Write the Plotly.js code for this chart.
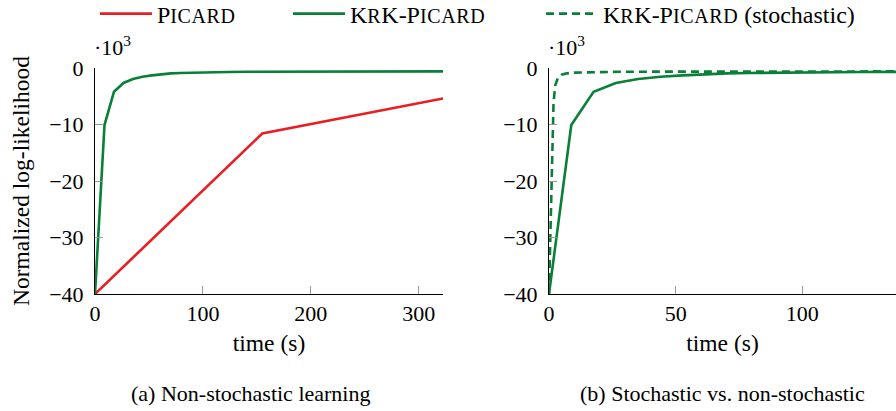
<!DOCTYPE html>
<html>
<head>
<meta charset="utf-8">
<script src="https://cdn.plot.ly/plotly-3.0.1.min.js"></script>
<style>html,body{margin:0;padding:0;background:#fff;}#chart{width:896px;height:411px;}</style>
</head>
<body>
<div id="chart"></div>
<script>
// ---- data ----
const picardTime = [0, 155, 322.5];
const picardLL = [-40, -11.6, -5.4];

const krkTime = [0, 8.8, 17.6, 26.4, 35.2, 44, 52.8, 61.6, 70.4, 79.2, 88, 105.6, 123.2, 140.8, 176, 220, 264, 322.5];
const krkLL = [-40, -10.1, -4.2, -2.65, -1.95, -1.55, -1.3, -1.1, -0.95, -0.88, -0.82, -0.75, -0.7, -0.67, -0.63, -0.61, -0.6, -0.59];

const krkStochTime = [0, 0.6, 1.2, 1.8, 2.5, 3.5, 5, 7, 10, 15, 25, 40, 60, 90, 137];
const krkStochLL = [-40, -27, -14, -6, -3, -1.8, -1.2, -0.95, -0.82, -0.74, -0.68, -0.65, -0.63, -0.62, -0.6];

const leftXTicks = [0, 100, 200, 300];
const rightXTicks = [0, 50, 100];
const yTicks = [-40, -30, -20, -10, 0];

const SC = '<span style="font-size:20px;letter-spacing:0.6px">';
const nameKrk = 'K' + SC + 'R</span>K-P' + SC + 'ICARD</span>';
const namePicard = 'P' + SC + 'ICARD</span>';
const nameStoch = nameKrk + ' (stochastic)';

const RED = 'rgb(232,30,34)';
const GREEN = 'rgb(8,128,56)';
const FONT = 'Liberation Serif';

const traces = [
  {x: picardTime, y: picardLL, xaxis: 'x', yaxis: 'y', mode: 'lines', name: namePicard,
   line: {color: RED, width: 2.6}, legend: 'legend'},
  {x: krkTime, y: krkLL, xaxis: 'x', yaxis: 'y', mode: 'lines', name: nameKrk,
   line: {color: GREEN, width: 2.6}, legend: 'legend2'},
  {x: krkTime, y: krkLL, xaxis: 'x2', yaxis: 'y2', mode: 'lines', name: nameKrk,
   line: {color: GREEN, width: 2.6}, showlegend: false},
  {x: krkStochTime, y: krkStochLL, xaxis: 'x2', yaxis: 'y2', mode: 'lines', name: nameStoch,
   line: {color: GREEN, width: 2.6, dash: '8px,5px'}, legend: 'legend3'}
];

const yDomain = [(411 - 294) / 411, (411 - 68) / 411];
const axCommon = {
  showgrid: false, zeroline: false, showline: true, linecolor: '#000', linewidth: 1,
  ticks: 'inside', ticklen: 8, tickcolor: '#999', tickwidth: 1,
  tickfont: {family: FONT, size: 22, color: '#000'}, fixedrange: true, automargin: false
};

const legCommon = {orientation: 'h', yanchor: 'middle', xanchor: 'left', y: (411 - 14) / 411,
  itemwidth: 52,
  font: {family: FONT, size: 24, color: '#000'}, bgcolor: 'rgba(0,0,0,0)', borderwidth: 0};

const layout = {
  width: 896, height: 411,
  margin: {l: 0, r: 0, t: 0, b: 0, autoexpand: false},
  paper_bgcolor: '#fff', plot_bgcolor: '#fff',
  font: {family: FONT, size: 22, color: '#000'},
  showlegend: true,
  legend: Object.assign({}, legCommon, {x: 95 / 896}),
  legend2: Object.assign({}, legCommon, {x: 288 / 896}),
  legend3: Object.assign({}, legCommon, {x: 541 / 896}),
  xaxis: Object.assign({}, axCommon, {domain: [95 / 896, 443 / 896], range: [0, 322.5], tickvals: leftXTicks,
    anchor: 'y', title: {text: 'time (s)', font: {family: FONT, size: 23.5}, standoff: 9}}),
  yaxis: Object.assign({}, axCommon, {domain: yDomain, range: [-40, 0], tickvals: yTicks, anchor: 'x',
    ticklabelstandoff: 6,
    title: {text: 'Normalized log-likelihood', font: {family: FONT, size: 23.5}, standoff: 12}}),
  xaxis2: Object.assign({}, axCommon, {domain: [549 / 896, 1], range: [0, 137], tickvals: rightXTicks,
    anchor: 'y2', title: {text: 'time (s)', font: {family: FONT, size: 23.5}, standoff: 9}}),
  yaxis2: Object.assign({}, axCommon, {domain: yDomain, range: [-40, 0], tickvals: yTicks, anchor: 'x2',
    ticklabelstandoff: 6}),
  annotations: [
    {xref: 'x domain', yref: 'y domain', x: 0, y: 1, xanchor: 'left', yanchor: 'bottom', yshift: 6, xshift: -3, showarrow: false,
     text: '·10<sup>3</sup>', font: {family: FONT, size: 22}},
    {xref: 'x2 domain', yref: 'y2 domain', x: 0, y: 1, xanchor: 'left', yanchor: 'bottom', yshift: 6, xshift: -3, showarrow: false,
     text: '·10<sup>3</sup>', font: {family: FONT, size: 22}},
    {xref: 'paper', yref: 'paper', x: 251 / 896, y: (411 - 393) / 411, xanchor: 'center', yanchor: 'middle', showarrow: false,
     text: '(a) Non-stochastic learning', font: {family: FONT, size: 22}},
    {xref: 'paper', yref: 'paper', x: 722 / 896, y: (411 - 393) / 411, xanchor: 'center', yanchor: 'middle', showarrow: false,
     text: '(b) Stochastic vs. non-stochastic', font: {family: FONT, size: 22}}
  ]
};

Plotly.newPlot('chart', traces, layout, {displayModeBar: false, staticPlot: true});
</script>
</body>
</html>
